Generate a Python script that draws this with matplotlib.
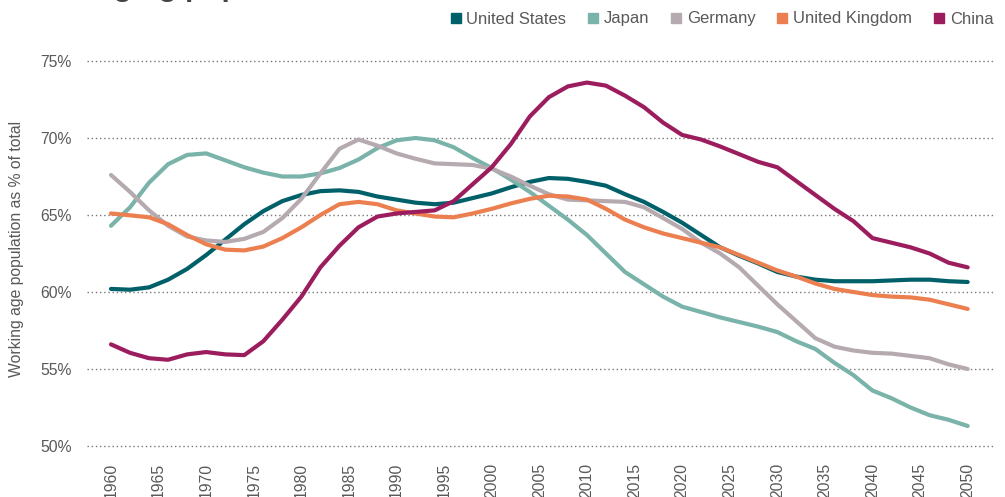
import numpy as np
import matplotlib.pyplot as plt

plt.rcParams['font.family'] = ['Liberation Sans', 'DejaVu Sans']

years = np.arange(1960, 2051, 2)

us = [60.2, 60.15, 60.3, 60.8, 61.5, 62.4, 63.4, 64.4, 65.25, 65.9,
      66.3, 66.55, 66.6, 66.5, 66.2, 66.0, 65.8, 65.7, 65.8, 66.1,
      66.4, 66.8, 67.15, 67.4, 67.35, 67.15, 66.9, 66.35, 65.85, 65.2,
      64.5, 63.7, 62.9, 62.35, 61.85, 61.3, 61.0, 60.8, 60.7, 60.7,
      60.7, 60.75, 60.8, 60.8, 60.7, 60.65]
japan = [64.3, 65.5, 67.1, 68.3, 68.9, 69.0, 68.55, 68.1, 67.75, 67.5,
         67.5, 67.7, 68.05, 68.6, 69.35, 69.85, 70.0, 69.85, 69.4, 68.7,
         68.05, 67.3, 66.5, 65.6, 64.7, 63.7, 62.5, 61.3, 60.5, 59.7,
         59.05, 58.7, 58.35, 58.05, 57.75, 57.4, 56.8, 56.3, 55.4, 54.6,
         53.6, 53.1, 52.5, 52.0, 51.7, 51.3]
germany = [67.6, 66.5, 65.3, 64.3, 63.6, 63.35, 63.25, 63.45, 63.9, 64.8,
           66.05, 67.7, 69.3, 69.9, 69.5, 69.0, 68.65, 68.35, 68.3, 68.25,
           68.0, 67.5, 66.9, 66.35, 66.0, 65.95, 65.9, 65.85, 65.5, 64.8,
           64.1, 63.2, 62.5, 61.6, 60.4, 59.2, 58.1, 57.0, 56.45, 56.2,
           56.05, 56.0, 55.85, 55.7, 55.3, 55.0]
uk = [65.1, 64.98, 64.85, 64.4, 63.7, 63.1, 62.75, 62.7, 62.95, 63.5,
      64.2, 65.0, 65.7, 65.85, 65.7, 65.3, 65.1, 64.9, 64.85, 65.1,
      65.4, 65.75, 66.05, 66.25, 66.2, 66.0, 65.4, 64.7, 64.2, 63.8,
      63.5, 63.2, 62.9, 62.4, 61.9, 61.4, 61.0, 60.55, 60.2, 60.0,
      59.8, 59.7, 59.65, 59.5, 59.2, 58.9]
china = [56.6, 56.05, 55.7, 55.6, 55.95, 56.1, 55.95, 55.9, 56.8, 58.2,
         59.7, 61.6, 63.0, 64.2, 64.9, 65.1, 65.2, 65.3, 65.9, 67.0,
         68.1, 69.6, 71.4, 72.65, 73.35, 73.6, 73.4, 72.75, 72.0, 71.0,
         70.2, 69.9, 69.45, 68.95, 68.45, 68.1, 67.2, 66.3, 65.4, 64.6,
         63.5, 63.2, 62.9, 62.5, 61.9, 61.6]

names = ['United States', 'Japan', 'Germany', 'United Kingdom', 'China']
colors = ['#00606a', '#7ab3a9', '#b5aab0', '#ec7f50', '#9c1d5d']
series = [us, japan, germany, uk, china]

fig = plt.figure(figsize=(10.05, 4.97), dpi=100)
ax = fig.add_axes([87 / 1005, 51 / 497, 906 / 1005, 385 / 497])

for name, vals, c in zip(names, series, colors):
    ax.plot(years, vals, color=c, lw=3, solid_capstyle='round',
            solid_joinstyle='round', label=name)

ax.set_xlim(1957.48, 2052.66)
ax.set_ylim(50, 75)
ax.set_xticks(np.arange(1960, 2051, 5))
ax.set_yticks([50, 55, 60, 65, 70, 75])
ax.set_yticklabels(['50%', '55%', '60%', '65%', '70%', '75%'])
ax.tick_params(axis='x', rotation=90, length=0, pad=12, labelsize=11.3,
               labelcolor='#595959')
ax.tick_params(axis='y', length=0, pad=11, labelsize=11.3,
               labelcolor='#595959')
for lab in ax.get_xticklabels():
    lab.set_verticalalignment('top')
ax.grid(axis='y', color='#777777', linestyle=(0, (1, 2)), lw=1)
for gl in ax.get_ygridlines():
    gl.set_clip_on(False)
for s in ax.spines.values():
    s.set_visible(False)

fig.text(17 / 1005, 0.499, 'Working age population as % of total',
         rotation=90, ha='center', va='center', fontsize=11.3,
         color='#595959')

handles = [plt.Line2D([], [], marker='s', ls='none', color=c, markersize=7)
           for c in colors]
fig.legend(handles, names, loc='center right', bbox_to_anchor=(1000 / 1005, 1 - 19 / 497),
           ncol=5, frameon=False, fontsize=12, labelcolor='#595959',
           handletextpad=0.25, columnspacing=1.2, handlelength=0.8,
           borderaxespad=0)

# title sits mostly above the canvas in the source picture
fig.text(92 / 1005, 1 + 4 / 497, 'Aging populations', fontsize=21.5,
         fontweight='bold', color='#444444', ha='left', va='baseline')

fig.savefig('out.png', dpi=100)
